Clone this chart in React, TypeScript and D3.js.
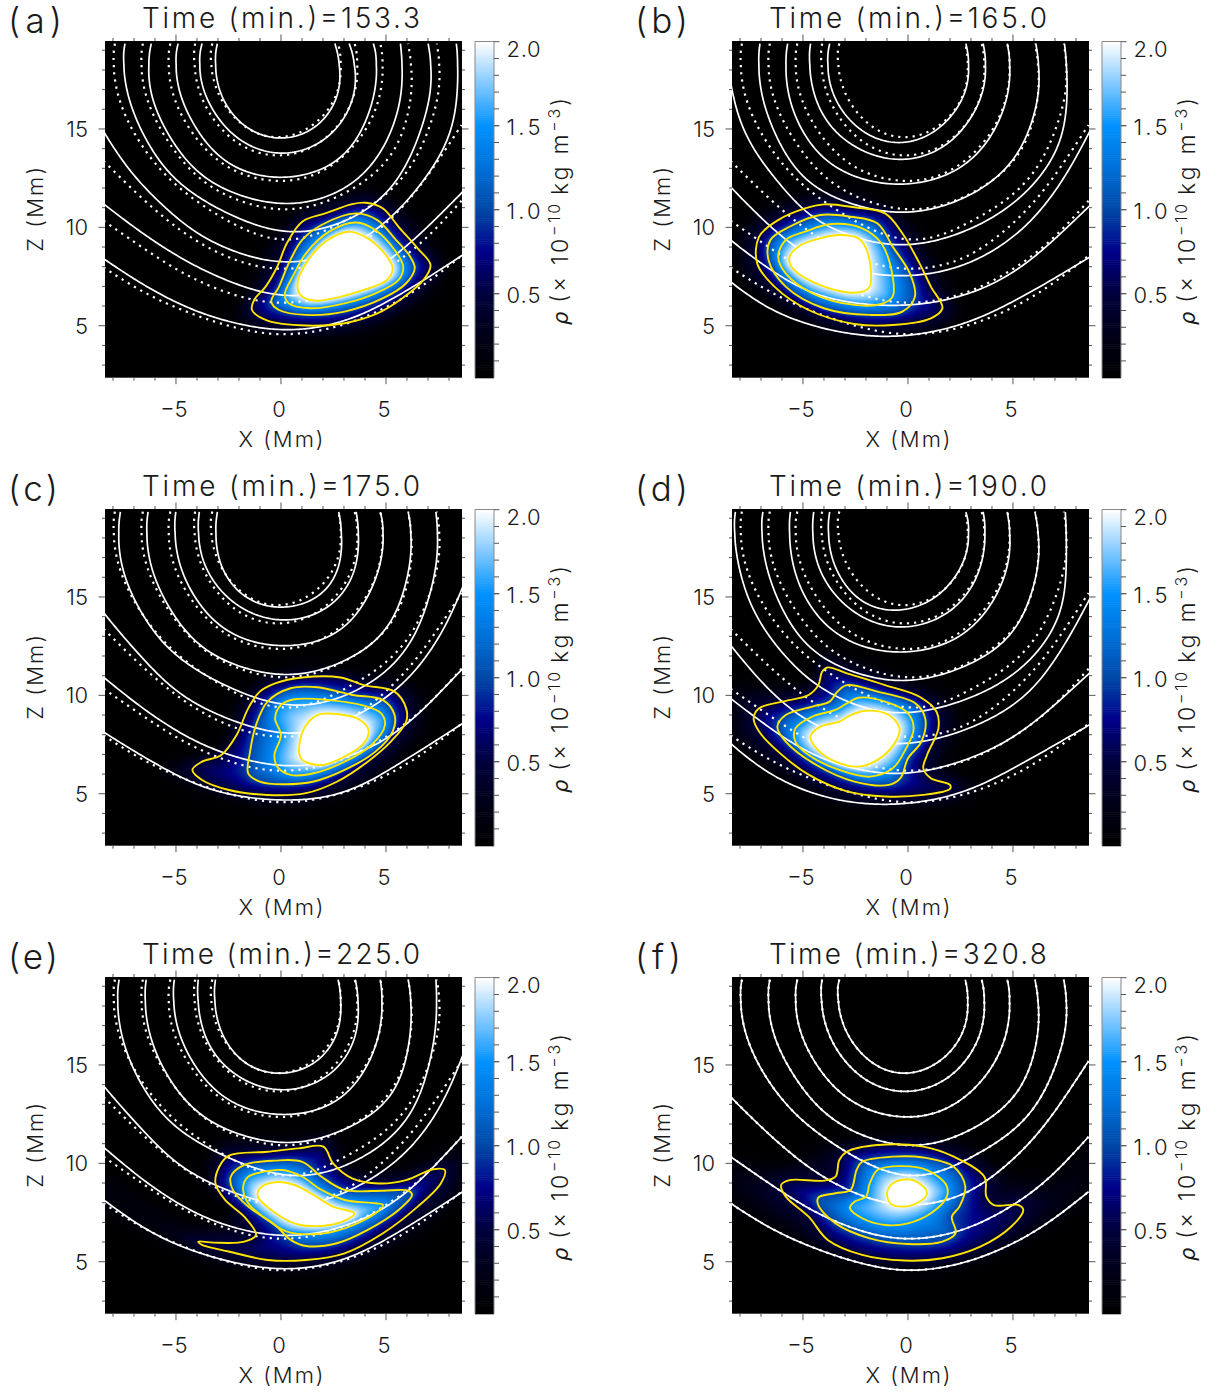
import { useMemo } from "react";
import * as d3 from "d3";

type Pt = [number, number];

const panelLabels = ["(a)", "(b)", "(c)", "(d)", "(e)", "(f)"];
const panelLabelWidths = [54, 53, 50, 53, 50, 46];
const panelTimes = ["153.3", "165.0", "175.0", "190.0", "225.0", "320.8"];
const xMajor = [-5, 0, 5];
const xMinor = d3.range(-8, 9);
const zMajor = [5, 10, 15];
const zMinor = d3.range(3, 20);
const barMajor = [2.0, 1.5, 1.0, 0.5];
const barMinor = d3.range(1, 20).map((d) => d / 10);
const contourLevels = [0.08, 0.5, 1.0, 1.5, 2.0];
const colorStops = [0, 0.25, 0.5, 0.75, 1.0, 1.25, 1.5, 1.75, 2.0];
const colorValues = ["#000000", "#000018", "#00003c", "#00008a", "#0048a8", "#0070d8", "#0092ff", "#80c8ff", "#ffffff"];

// dotted field lines, they stay the same in every panel
const referenceLines: Pt[][] = [
  [[-3.27, 19.34], [-3.42, 18.12], [-2.91, 16.43], [-1.64, 14.9], [-0.18, 14.4], [1.45, 14.99], [2.64, 16.43], [2.95, 17.79], [2.73, 19.34]],
  [[-4.09, 19.34], [-4.18, 17.95], [-3.64, 16.09], [-2.18, 14.23], [-0.22, 13.52], [1.82, 14.15], [3.27, 15.92], [3.73, 17.79], [3.51, 19.34]],
  [[-5.27, 19.34], [-5.42, 17.78], [-4.73, 15.58], [-2.91, 13.21], [-0.27, 12.27], [2.18, 12.87], [4.18, 15.08], [4.91, 17.61], [4.73, 19.34]],
  [[-6.58, 19.34], [-6.69, 17.61], [-5.82, 15.08], [-3.64, 12.2], [-0.27, 10.85], [2.55, 11.44], [5.27, 13.55], [6.27, 16.94], [6.05, 19.34]],
  [[-7.91, 19.34], [-8, 17.61], [-7.09, 14.9], [-4.73, 11.86], [-0.27, 9.29], [3.09, 10.34], [6, 12.7], [7.55, 16.77], [7.42, 19.34]],
  [[-8.45, 13.38], [-6.55, 11.4], [-4.5, 9.6], [-2.4, 8.4], [-0.27, 7.83], [2.4, 8.25], [4.6, 9.8], [6.5, 11.9], [8.6, 15.2]],
  [[-8.45, 10.34], [-6.5, 8.9], [-4.5, 7.55], [-2.4, 6.6], [-0.2, 6.1], [2.4, 6.5], [4.6, 7.6], [6.6, 9.1], [8.6, 11.35]],
  [[-8.45, 7.97], [-6.5, 6.65], [-4.5, 5.7], [-2.4, 4.95], [-0.1, 4.5], [2.4, 4.85], [4.6, 5.7], [6.6, 6.9], [8.6, 8.56]],
];

const linesA: Pt[][] = [
  [[-3.03, 19.34], [-3.21, 17.82], [-2.66, 16.13], [-1.56, 14.86], [0, 14.38], [1.56, 14.86], [2.57, 16.13], [2.94, 17.56], [2.57, 19.34]],
  [[-3.76, 19.34], [-3.98, 17.82], [-3.39, 16.13], [-2.11, 14.43], [0, 13.62], [2.11, 14.35], [3.3, 15.96], [3.67, 17.65], [3.25, 19.34]],
  [[-4.9, 19.34], [-5.08, 17.82], [-4.4, 15.62], [-2.66, 13.25], [0, 12.45], [2.66, 13.25], [4.04, 15.28], [4.64, 17.82], [4.4, 19.34]],
  [[-6.18, 19.34], [-6.37, 17.48], [-5.6, 15.11], [-3.58, 12.4], [0, 11.13], [3.03, 11.9], [4.86, 13.93], [5.78, 16.8], [5.69, 19.34]],
  [[-7.43, 19.34], [-7.52, 17.65], [-6.61, 14.77], [-4.5, 11.9], [0, 9.73], [3.58, 10.54], [5.78, 12.74], [7.16, 16.8], [7.01, 19.34]],
  [[-8.48, 14.94], [-7.25, 12.91], [-5.23, 10.71], [-3.21, 9.19], [0, 8.17], [3.03, 8.85], [5.78, 11.05], [7.98, 14.43], [8.44, 17.48], [8.35, 19.34]],
  [[-8.48, 11.22], [-6.15, 9.36], [-3.39, 7.66], [0, 6.48], [3.03, 6.99], [5.78, 8.85], [8.66, 11.81]],
  [[-8.48, 8.43], [-6.15, 6.82], [-3.39, 5.47], [0, 4.75], [3.03, 5.21], [5.78, 6.65], [8.66, 8.6]],
];
const linesB: Pt[][] = [
  [[-3.73, 19.34], [-3.91, 17.82], [-3.36, 16.13], [-2.18, 14.77], [-0.64, 14.15], [1.09, 14.6], [2.36, 15.96], [3, 17.48], [2.76, 19.34]],
  [[-4.64, 19.34], [-4.73, 17.82], [-4.18, 15.79], [-2.91, 14.26], [-0.64, 13.33], [1.64, 13.93], [3.09, 15.62], [3.78, 17.48], [3.58, 19.34]],
  [[-5.73, 19.34], [-5.87, 17.65], [-5.27, 15.28], [-3.64, 13.08], [-0.73, 12.12], [2.18, 12.74], [4, 14.6], [4.91, 17.31], [4.73, 19.34]],
  [[-7.05, 19.34], [-7.13, 17.48], [-6.36, 14.77], [-4.55, 12.06], [-0.73, 10.71], [2.55, 11.39], [5.09, 13.42], [6.27, 16.8], [6.09, 19.34]],
  [[-8.45, 17.65], [-8.35, 16.63], [-7.64, 14.43], [-6, 12.06], [-4.18, 10.2], [-0.73, 9.05], [2.55, 9.7], [5.45, 11.56], [7.27, 14.26], [7.6, 17.31], [7.45, 19.34]],
  [[-8.45, 12.06], [-6.55, 10.03], [-4.36, 8.34], [-0.73, 7.5], [2.55, 8], [5.27, 9.7], [7.2, 12.1], [8.69, 14.94]],
  [[-8.45, 9.36], [-6.55, 7.83], [-4.18, 6.48], [-0.73, 6.0], [2.55, 6.48], [5.45, 8], [8.69, 11.13]],
  [[-8.45, 7.24], [-6.55, 5.8], [-3.82, 4.79], [-0.73, 4.42], [2.55, 5.04], [5.45, 6.48], [8.69, 8.51]],
];
const linesC: Pt[][] = [
  [[-3.03, 19.32], [-3.17, 17.63], [-2.66, 15.94], [-1.56, 14.75], [0, 14.35], [1.74, 14.83], [2.66, 15.94], [2.97, 17.63], [2.75, 19.32]],
  [[-3.89, 19.32], [-3.98, 17.63], [-3.39, 15.94], [-2.02, 14.42], [0, 13.71], [2.11, 14.25], [3.39, 15.77], [3.76, 17.63], [3.58, 19.32]],
  [[-5.01, 19.32], [-5.08, 17.63], [-4.4, 15.43], [-2.66, 13.23], [0, 12.45], [2.66, 13.06], [4.22, 15.09], [4.95, 17.63], [4.73, 19.32]],
  [[-6.33, 19.32], [-6.42, 17.46], [-5.6, 14.92], [-3.58, 12.22], [0, 10.98], [3.03, 11.71], [5.23, 13.57], [6.24, 17.12], [6.06, 19.32]],
  [[-7.65, 19.32], [-7.76, 17.29], [-6.88, 14.59], [-4.68, 11.71], [0, 9.48], [3.58, 10.19], [6.15, 12.55], [7.43, 16.62], [7.38, 19.32]],
  [[-8.48, 14.25], [-6.88, 12.22], [-4.31, 9.68], [0, 8.02], [3.03, 8.66], [5.78, 10.52], [7.61, 13.06], [8.66, 15.52]],
  [[-8.48, 10.95], [-6.15, 9], [-3.39, 7.31], [0, 6.38], [3.03, 6.8], [5.78, 8.32], [8.66, 11.37]],
  [[-8.48, 8.16], [-6.15, 6.63], [-3.39, 5.19], [0, 4.65], [3.03, 5.03], [5.78, 6.63], [8.66, 8.58]],
];
const linesD: Pt[][] = [
  [[-3.73, 19.32], [-3.85, 17.63], [-3.27, 15.94], [-2.18, 14.58], [-0.64, 14.2], [0.91, 14.59], [2.18, 15.77], [3, 17.63], [2.76, 19.32]],
  [[-4.49, 19.32], [-4.58, 17.63], [-4.09, 15.94], [-2.73, 14.25], [-0.64, 13.35], [1.64, 13.91], [3.09, 15.43], [3.73, 17.63], [3.58, 19.32]],
  [[-5.6, 19.32], [-5.67, 17.63], [-5.09, 15.26], [-3.45, 13.06], [-0.73, 12.13], [2.18, 12.72], [4, 14.59], [4.91, 17.12], [4.73, 19.32]],
  [[-6.91, 19.32], [-6.98, 17.63], [-6.18, 14.75], [-4.36, 12.05], [-0.73, 10.69], [2.55, 11.37], [5.09, 13.23], [6.27, 16.79], [6.05, 19.32]],
  [[-8.22, 19.32], [-8.27, 17.63], [-7.45, 14.42], [-5.64, 11.71], [-3.64, 10.02], [-0.73, 9.04], [2.55, 9.68], [5.45, 11.37], [7.27, 14.08], [7.55, 17.29], [7.49, 19.32]],
  [[-8.45, 12.55], [-6.55, 10.19], [-4.18, 8.32], [-0.73, 7.48], [2.55, 8.15], [5.45, 9.8], [7.25, 12.2], [8.69, 14.97]],
  [[-8.45, 9.85], [-6.55, 8.32], [-4.18, 6.8], [-0.73, 5.96], [2.55, 6.63], [5.45, 8.16], [8.69, 11.17]],
  [[-8.45, 7.56], [-6.55, 5.96], [-3.82, 4.77], [-0.73, 4.43], [2.55, 5.03], [5.45, 6.55], [8.69, 8.53]],
];
const linesE: Pt[][] = [
  [[-3.12, 19.34], [-3.21, 17.78], [-2.66, 16.09], [-1.56, 14.82], [0, 14.45], [1.56, 14.9], [2.66, 16.26], [2.94, 17.78], [2.72, 19.34]],
  [[-3.94, 19.34], [-3.98, 17.78], [-3.39, 15.75], [-2.02, 14.31], [0, 13.6], [2.11, 14.23], [3.39, 15.75], [3.76, 17.61], [3.54, 19.34]],
  [[-5.08, 19.34], [-5.14, 17.61], [-4.4, 15.41], [-2.66, 13.21], [0, 12.4], [2.66, 13.05], [4.22, 15.08], [4.86, 17.44], [4.73, 19.34]],
  [[-6.42, 19.34], [-6.48, 17.44], [-5.6, 14.74], [-3.58, 12.2], [0, 10.98], [3.03, 11.69], [5.41, 13.55], [6.24, 17.11], [6.06, 19.34]],
  [[-7.71, 19.34], [-7.8, 17.44], [-6.88, 14.4], [-4.68, 11.52], [0, 9.36], [3.39, 10], [6.15, 12.37], [7.34, 16.43], [7.38, 19.34]],
  [[-8.48, 13.98], [-6.88, 12.03], [-4.31, 9.49], [0, 7.83], [3.03, 8.48], [5.78, 10.34], [7.61, 12.88], [8.66, 15.5]],
  [[-8.48, 10.85], [-6.15, 8.82], [-3.39, 7.12], [0, 6.28], [3.03, 6.79], [5.78, 8.31], [8.66, 11.4]],
  [[-8.48, 8.17], [-6.15, 6.45], [-3.39, 5.26], [0, 4.59], [3.03, 5.09], [5.78, 6.62], [8.66, 8.56]],
];
const panelLines = [linesA, linesB, linesC, linesD, linesE, referenceLines];

// yellow density contours, outermost first. The first ring of each panel is the
// faint halo around the blob and is not stroked.
const contoursA: Pt[][] = [
  [[4.2, 12], [6, 11], [7.5, 9], [8, 8], [7, 6.3], [5, 4.9], [3, 4.3], [1, 4.3], [-1.5, 4.7], [-2.3, 5.6], [-1.5, 7.2], [-0.5, 9.5], [0.8, 11], [2.5, 11.6]],
  [[4.04, 11.25], [4.86, 10.96], [5.6, 10.03], [6.51, 8.93], [7.12, 8.09], [6.79, 7.33], [5.78, 6.4], [4.59, 5.63], [3.03, 5.13], [1.19, 5.01], [-0.64, 5.26], [-1.38, 5.8], [-1.28, 6.31], [-0.73, 6.99], [-0.18, 8], [0.28, 9.19], [1.01, 10.29], [2.11, 10.71], [3.39, 11.18]],
  [[3.58, 10.71], [4.59, 10.37], [5.41, 9.44], [6.15, 8.51], [6.37, 7.92], [5.96, 7.16], [4.86, 6.4], [3.03, 5.72], [1.19, 5.55], [-0.09, 5.8], [-0.46, 6.23], [-0.09, 6.99], [0.37, 8.17], [1.01, 9.36], [1.93, 10.12]],
  [[3.58, 10.25], [4.5, 9.86], [5.41, 8.85], [5.82, 8], [5.6, 7.33], [4.5, 6.65], [3.03, 6.14], [1.38, 5.89], [0.37, 6.14], [0.18, 6.57], [0.64, 7.66], [1.19, 8.68], [2.29, 9.78]],
  [[3.21, 9.78], [4.13, 9.44], [5.05, 8.51], [5.32, 7.92], [5.05, 7.33], [3.94, 6.82], [2.66, 6.43], [1.56, 6.28], [0.92, 6.57], [0.79, 7.16], [1.19, 8.17], [2.11, 9.27]],
];
const contoursB: Pt[][] = [
  [[-4, 12], [-1, 11.3], [0.5, 10], [1.6, 8], [2.6, 5.8], [1.5, 4.7], [-1, 4.2], [-3.5, 4.4], [-6, 5.7], [-8, 7.5], [-8.2, 9.5], [-7, 11]],
  [[-4, 11.17], [-2.55, 11.02], [-1.09, 10.71], [-0.27, 9.7], [0.55, 8.17], [1.09, 6.99], [1.64, 5.89], [1.09, 5.38], [-0.73, 5.04], [-2.55, 5.09], [-4.73, 5.8], [-6.36, 6.99], [-7.18, 8.17], [-7.09, 9.53], [-6.18, 10.37], [-4.91, 10.96]],
  [[-4.18, 10.63], [-2.73, 10.54], [-1.45, 10.2], [-0.73, 9.02], [0.09, 7.66], [0.33, 6.48], [-0.27, 5.72], [-1.82, 5.55], [-4, 5.89], [-5.82, 6.99], [-6.64, 8.34], [-6.55, 9.36], [-5.64, 10.03]],
  [[-3.64, 10.17], [-2.18, 9.95], [-1.27, 9.19], [-0.73, 7.5], [-0.73, 6.48], [-1.27, 6.11], [-2.55, 6.06], [-4.55, 6.65], [-5.82, 7.66], [-6.18, 8.51], [-5.82, 9.36], [-4.91, 9.78]],
  [[-3.27, 9.61], [-2.36, 9.44], [-1.91, 8.68], [-1.82, 6.99], [-2.18, 6.73], [-3.09, 6.73], [-4.73, 7.33], [-5.55, 8], [-5.64, 8.51], [-5.09, 9.1], [-4.18, 9.44]],
];
const contoursC: Pt[][] = [
  [[1, 11.6], [4, 11.2], [6.5, 10.5], [7, 8.5], [6, 7], [4, 5.2], [1, 4.3], [-2, 4.5], [-5.5, 5.8], [-5, 6.8], [-3, 7.5], [-2.3, 9.5], [-1, 11]],
  [[-0.28, 10.61], [1.01, 10.91], [2.84, 10.91], [3.94, 10.52], [5.41, 10.19], [5.96, 9.34], [5.96, 8.66], [5.23, 7.65], [4.13, 6.63], [2.66, 5.61], [1.19, 5.03], [-0.64, 4.94], [-2.48, 5.19], [-3.76, 5.7], [-4.22, 6.21], [-3.76, 6.63], [-2.84, 6.97], [-2.11, 7.99], [-1.56, 9.34], [-1.01, 10.19]],
  [[0.46, 10.36], [1.74, 10.41], [3.39, 10.02], [4.86, 9.76], [5.41, 9], [5.32, 8.16], [4.5, 7.14], [3.03, 6.21], [1.56, 5.62], [0.09, 5.48], [-1.01, 5.62], [-1.56, 6.04], [-1.47, 7.14], [-1.19, 8.49], [-0.64, 9.68]],
  [[0.64, 9.8], [2.29, 9.76], [3.94, 9.48], [4.77, 9.09], [4.95, 8.49], [4.31, 7.48], [3.03, 6.63], [1.56, 6.04], [0.46, 5.96], [-0.18, 6.38], [-0.31, 6.97], [0, 7.99], [-0.28, 8.83], [0, 9.51]],
  [[1.74, 9], [2.66, 9.05], [3.76, 8.75], [4.17, 8.24], [3.94, 7.56], [3.03, 6.89], [1.93, 6.46], [1.01, 6.72], [0.86, 7.14], [1.1, 8.32]],
];
const contoursD: Pt[][] = [
  [[-4, 12.3], [-1, 11.3], [2, 10], [2.5, 8], [2, 6.5], [3.5, 5.3], [2, 4.3], [-1, 4.2], [-4, 4.6], [-8, 7.2], [-8.6, 8.5], [-8.6, 10.5], [-5, 10.7]],
  [[-3.82, 11.42], [-2.91, 11.12], [-1.09, 10.52], [0.55, 9.93], [1.36, 9.17], [1.45, 8.32], [0.91, 6.97], [0.73, 6.29], [1.09, 5.79], [2, 5.45], [2, 5.25], [0.73, 4.94], [-1.09, 4.86], [-2.91, 5.12], [-4.73, 5.97], [-6.18, 7.14], [-7.09, 8.16], [-7.35, 8.83], [-7.09, 9.34], [-6, 9.68], [-4.73, 10.02], [-4.27, 10.52], [-4.09, 11.2]],
  [[-2.91, 10.52], [-1.45, 10.19], [0.36, 9.59], [0.82, 8.83], [0.64, 7.65], [0, 6.8], [-0.36, 5.79], [-0.91, 5.45], [-2.55, 5.62], [-4.36, 6.46], [-5.82, 7.65], [-6.22, 8.41], [-5.82, 9], [-4.55, 9.43], [-3.73, 9.68], [-3.36, 10.19]],
  [[-2.36, 9.88], [-1.09, 9.68], [0, 9.09], [0.27, 8.32], [-0.09, 7.31], [-0.73, 6.29], [-1.82, 5.87], [-3.27, 6.21], [-4.73, 6.97], [-5.36, 7.65], [-5.36, 8.32], [-4.55, 8.92], [-3.45, 9.26], [-2.91, 9.59]],
  [[-2, 9.22], [-0.91, 9], [-0.4, 8.32], [-0.64, 7.56], [-1.45, 6.72], [-2.36, 6.38], [-3.45, 6.63], [-4.36, 7.31], [-4.64, 7.9], [-4.18, 8.41], [-3.27, 8.66], [-2.73, 9]],
];
const contoursE: Pt[][] = [
  [[-3, 11.2], [0, 11.4], [2.5, 11.6], [3.5, 9.9], [6, 9.9], [8.8, 11], [8.8, 8.6], [6.5, 6.3], [3, 4.6], [0, 4.4], [-4, 5.1], [-8.7, 8], [-8.7, 9.5], [-4.5, 7], [-2.5, 7.5], [-3.7, 9]],
  [[-2.48, 10.39], [-0.64, 10.59], [0.83, 10.76], [2.02, 10.85], [2.48, 10], [3.39, 9.24], [4.68, 8.98], [5.96, 9.15], [7.25, 9.7], [7.8, 9.66], [7.61, 8.98], [6.51, 7.8], [4.86, 6.45], [3.03, 5.43], [1.19, 5.09], [-0.64, 5.09], [-2.48, 5.52], [-3.76, 5.86], [-3.94, 6.02], [-3.21, 5.97], [-1.75, 6.02], [-1.19, 6.36], [-1.75, 7.29], [-2.66, 8.14], [-3.12, 8.98], [-2.94, 9.83]],
  [[-1.74, 9.92], [-0.28, 10.14], [1.01, 10.08], [1.93, 9.32], [3.03, 8.65], [4.86, 8.61], [6.06, 8.61], [6.24, 8.39], [5.6, 7.63], [4.13, 6.62], [2.66, 5.94], [1.19, 5.8], [0.46, 6.11], [-0.28, 6.87], [-1.56, 7.8], [-2.29, 8.65], [-2.39, 9.32]],
  [[-1.01, 9.53], [0.09, 9.66], [1.01, 9.32], [1.93, 8.65], [3.03, 8.14], [4.5, 7.97], [4.86, 7.88], [4.5, 7.46], [3.03, 6.7], [1.74, 6.41], [0.28, 6.53], [-0.64, 7.12], [-1.56, 7.97], [-1.8, 8.82], [-1.56, 9.32]],
  [[-0.28, 9.04], [0.64, 8.9], [1.56, 8.39], [2.48, 7.8], [3.49, 7.46], [3.03, 7.09], [1.93, 6.82], [0.64, 6.95], [-0.46, 7.63], [-1.1, 8.31], [-1.01, 8.73]],
];
const contoursF: Pt[][] = [
  [[-4, 11], [0, 11.6], [3, 11], [5, 9.5], [7, 9.5], [8.8, 11], [8.8, 8.5], [6, 6.2], [3, 4.8], [0, 4.5], [-3, 4.9], [-6, 6.5], [-8.7, 8.3], [-8.7, 10.2], [-6, 10]],
  [[-2.91, 10.59], [-1.45, 10.93], [0.73, 10.85], [2.18, 10.34], [3.64, 9.32], [3.73, 8.31], [4.09, 7.88], [5.27, 7.88], [5.49, 7.63], [4.91, 6.78], [3.45, 5.77], [1.64, 5.18], [-0.18, 5.06], [-2.18, 5.35], [-3.82, 6.11], [-4.73, 7.29], [-5.82, 8.31], [-6.04, 8.9], [-5.64, 9.15], [-4, 9.12], [-3.45, 9.32], [-3.27, 10.17]],
  [[-2.18, 10.08], [-0.73, 10.34], [0.73, 10.3], [2.18, 9.83], [2.73, 8.82], [2.45, 7.8], [2.09, 7.29], [2.27, 6.45], [1.64, 6.02], [0, 5.9], [-1.82, 6.19], [-3.45, 6.95], [-4.27, 7.88], [-4.27, 8.26], [-3.45, 8.48], [-2.73, 8.65], [-2.45, 9.66]],
  [[-1.45, 9.66], [-0.36, 9.86], [0.91, 9.66], [1.82, 8.9], [1.85, 8.31], [1.09, 7.46], [0, 6.95], [-1.09, 6.87], [-2.18, 7.21], [-2.76, 7.72], [-2.55, 8.05], [-2, 8.31], [-1.82, 8.98]],
  [[-0.73, 8.98], [0, 9.19], [0.64, 8.9], [0.91, 8.48], [0.55, 8.05], [-0.27, 7.8], [-0.82, 7.94], [-1, 8.48]],
];
const panelContours = [contoursA, contoursB, contoursC, contoursD, contoursE, contoursF];

const FONT = "Inter, 'Open Sans', sans-serif";
const PLOT_W = 357;
const PLOT_H = 336.7;
const COL_OFFSET = 627;
const ROW_OFFSET = 468;
const STEP = 2;

const x = d3.scaleLinear().domain([-8.38, 8.62]).range([0, PLOT_W]);
const z = d3.scaleLinear().domain([2.36, 19.47]).range([PLOT_H, 0]);
const barY = d3.scaleLinear().domain([0, 2]).range([PLOT_H, 0.7]);
const color = d3.scaleLinear<string>().domain(colorStops).range(colorValues).clamp(true);

const polyLine = d3.line<Pt>().x((d) => x(d[0])).y((d) => z(d[1]));
const closedLine = d3.line<Pt>().x((d) => x(d[0])).y((d) => z(d[1])).curve(d3.curveCatmullRomClosed.alpha(0.5));

function catmull(p0: Pt, p1: Pt, p2: Pt, p3: Pt, t: number): Pt {
  const f = (a: number, b: number, c: number, d: number) =>
    0.5 * (2 * b + (c - a) * t + (2 * a - 5 * b + 4 * c - d) * t * t + (3 * b - a - 3 * c + d) * t * t * t);
  return [f(p0[0], p1[0], p2[0], p3[0]), f(p0[1], p1[1], p2[1], p3[1])];
}

function sampleRing(ring: Pt[]): Pt[] {
  const n = ring.length;
  const out: Pt[] = [];
  for (let i = 0; i < n; i++) {
    for (let s = 0; s < 4; s++) {
      out.push(catmull(ring[(i + n - 1) % n], ring[i], ring[(i + 1) % n], ring[(i + 2) % n], s / 4));
    }
  }
  return out;
}

// the read points carry some error, so the field lines get resampled along
// their length and averaged to take out the kinks
function smoothLine(points: Pt[], radius = 1.1): Pt[] {
  const n = points.length;
  const dense: Pt[] = [];
  for (let i = 0; i < n - 1; i++) {
    for (let s = 0; s < 12; s++) {
      dense.push(catmull(points[Math.max(i - 1, 0)], points[i], points[i + 1], points[Math.min(i + 2, n - 1)], s / 12));
    }
  }
  dense.push(points[n - 1]);
  const lengths = [0];
  for (let i = 1; i < dense.length; i++) {
    lengths.push(lengths[i - 1] + Math.hypot(dense[i][0] - dense[i - 1][0], dense[i][1] - dense[i - 1][1]));
  }
  const total = lengths[lengths.length - 1];
  const bisect = d3.bisector((d: number) => d).left;
  const spacing = 0.1;
  const count = Math.floor(total / spacing);
  let even: Pt[] = d3.range(count + 1).map((k) => {
    const s = (k / count) * total;
    const j = Math.min(Math.max(bisect(lengths, s), 1), dense.length - 1);
    const t = (s - lengths[j - 1]) / (lengths[j] - lengths[j - 1] || 1);
    return [dense[j - 1][0] + (dense[j][0] - dense[j - 1][0]) * t, dense[j - 1][1] + (dense[j][1] - dense[j - 1][1]) * t] as Pt;
  });
  const win = Math.round(radius / (total / count));
  for (let pass = 0; pass < 2; pass++) {
    even = even.map((_, k) => {
      const w = Math.min(win, k, even.length - 1 - k);
      const part = even.slice(k - w, k + w + 1);
      return [d3.mean(part, (d) => d[0]) as number, d3.mean(part, (d) => d[1]) as number] as Pt;
    });
  }
  return even;
}

function ringDistance(ring: Pt[], px: number, py: number) {
  let best = Infinity;
  for (let i = 0, n = ring.length; i < n; i++) {
    const a = ring[i];
    const b = ring[(i + 1) % n];
    const dx = b[0] - a[0];
    const dy = b[1] - a[1];
    const t = Math.max(0, Math.min(1, ((px - a[0]) * dx + (py - a[1]) * dy) / (dx * dx + dy * dy || 1)));
    const ex = a[0] + t * dx - px;
    const ey = a[1] + t * dy - py;
    const d = ex * ex + ey * ey;
    if (d < best) best = d;
  }
  return Math.sqrt(best);
}

// density on a grid, interpolated between the contours
function densityField(contours: Pt[][], nx: number, ny: number) {
  const rings = contours.map(sampleRing);
  const values = new Float64Array(nx * ny);
  for (let j = 0; j < ny; j++) {
    const zv = z.invert((j + 0.5) * STEP);
    for (let i = 0; i < nx; i++) {
      const xv = x.invert((i + 0.5) * STEP);
      let k = rings.length - 1;
      while (k >= 0 && !d3.polygonContains(rings[k], [xv, zv])) k--;
      let v: number;
      if (k < 0) {
        v = contourLevels[0] * Math.exp(-ringDistance(rings[0], xv, zv) / 0.45);
      } else if (k === rings.length - 1) {
        v = contourLevels[k] + ringDistance(rings[k], xv, zv);
      } else {
        const d0 = ringDistance(rings[k], xv, zv);
        const d1 = ringDistance(rings[k + 1], xv, zv);
        v = contourLevels[k] + ((contourLevels[k + 1] - contourLevels[k]) * d0) / (d0 + d1 || 1);
      }
      values[j * nx + i] = v;
    }
  }
  return values;
}

const densityThresholds = d3.range(0.02, 2.01, 0.03);
const axisColor = "#555";
const smoothReference = referenceLines.map((l) => polyLine(smoothLine(l)) || "");

function Panel({ index }: { index: number }) {
  const left = 105 + (index % 2) * COL_OFFSET;
  const top = 41 + Math.floor(index / 2) * ROW_OFFSET;
  const contours = panelContours[index];
  const clipId = `plot-clip-${index}`;

  const bands = useMemo(() => {
    const nx = Math.ceil(PLOT_W / STEP);
    const ny = Math.ceil(PLOT_H / STEP);
    const values = densityField(contours, nx, ny);
    const gen = d3.contours().size([nx, ny]).thresholds(densityThresholds);
    const path = d3.geoPath();
    return gen(Array.from(values)).map((c) => ({ value: c.value, d: path(c) || "" }));
  }, [contours]);

  const solid = useMemo(() => panelLines[index].map((l) => polyLine(smoothLine(l)) || ""), [index]);
  const barBlocks = d3.range(0, 2, 0.0125);

  return (
    <g transform={`translate(${left},${top})`} fontFamily={FONT} fontWeight={300} fill="#1a1a1a">
      <defs>
        <clipPath id={clipId}>
          <rect width={PLOT_W} height={PLOT_H} />
        </clipPath>
      </defs>
      <text x={-97} y={-8} fontSize={35} textLength={panelLabelWidths[index]} lengthAdjust="spacing">
        {panelLabels[index]}
      </text>
      <text x={x(0)} y={-13} fontSize={28} textAnchor="middle" textLength={278} lengthAdjust="spacing">
        Time (min.)={panelTimes[index]}
      </text>

      <rect width={PLOT_W} height={PLOT_H} fill="#000" />
      <g clipPath={`url(#${clipId})`}>
        <g transform={`scale(${STEP})`}>
          {bands.map((b) => (
            <path key={b.value} d={b.d} fill={color(b.value)} />
          ))}
        </g>
        {smoothReference.map((d, i) => (
          <path key={i} d={d} fill="none" stroke="#fff" strokeWidth={2.2} strokeDasharray="2.2 5" />
        ))}
        {solid.map((d, i) => (
          <path key={i} d={d} fill="none" stroke="#fff" strokeWidth={1.7} />
        ))}
        {contours.slice(1).map((c, i) => (
          <path key={i} d={closedLine(c) || ""} fill="none" stroke="#ffe400" strokeWidth={1.9} />
        ))}
      </g>

      <g stroke={axisColor} strokeWidth={1}>
        {xMinor.map((t) => {
          const len = xMajor.includes(t) ? 6.5 : 3;
          return (
            <g key={t}>
              <line x1={x(t)} x2={x(t)} y1={PLOT_H} y2={PLOT_H + len} />
              <line x1={x(t)} x2={x(t)} y1={0} y2={-len} />
            </g>
          );
        })}
        {zMinor.map((t) => {
          const len = zMajor.includes(t) ? 6.5 : 3;
          return (
            <g key={t}>
              <line y1={z(t)} y2={z(t)} x1={0} x2={-len} />
              <line y1={z(t)} y2={z(t)} x1={PLOT_W} x2={PLOT_W + len} />
            </g>
          );
        })}
      </g>
      {xMajor.map((t) => (
        <text key={t} x={x(t) - 2} y={PLOT_H + 39.5} fontSize={22} textAnchor="middle">
          {t < 0 ? `\u2212${-t}` : t}
        </text>
      ))}
      {zMajor.map((t) => (
        <text key={t} x={-17} y={z(t) + 8} fontSize={22} textAnchor="end">
          {t}
        </text>
      ))}
      <text x={x(0)} y={PLOT_H + 69} fontSize={22} textAnchor="middle" textLength={85} lengthAdjust="spacing">
        X (Mm)
      </text>
      <text transform={`translate(-62,${z(10) - 18}) rotate(-90)`} fontSize={22} textAnchor="middle" textLength={85} lengthAdjust="spacing">
        Z (Mm)
      </text>

      <g transform="translate(370,0)">
        {barBlocks.map((v) => (
          <rect key={v} x={0} width={19} y={barY(v + 0.0125)} height={barY(v) - barY(v + 0.0125) + 0.6} fill={color(v + 0.00625)} />
        ))}
        <path d={`M0,${PLOT_H}V0.5H19V${PLOT_H}`} fill="none" stroke="#888" strokeWidth={1} />
        {barMinor.map((v) => (
          <line key={v} x1={19} x2={24} y1={barY(v)} y2={barY(v)} stroke={axisColor} />
        ))}
        {barMajor.map((v) => (
          <g key={v}>
            <line x1={19} x2={24.5} y1={barY(v)} y2={barY(v)} stroke={axisColor} />
            <text x={31.5} y={barY(v) + (v === 2 ? 15.5 : 9)} fontSize={22} textLength={34} lengthAdjust="spacing">
              {v.toFixed(1)}
            </text>
          </g>
        ))}
        <text transform="translate(93,284) rotate(-90)" fontSize={23} textLength={227} lengthAdjust="spacing">
          <tspan fontFamily="'DejaVu Sans'" fontStyle="italic" fontSize={21}>ρ</tspan>
          <tspan dx={6}>(× 10</tspan>
          <tspan dy={-8} fontSize={16}>−10</tspan>
          <tspan dy={8} dx={6}>kg m</tspan>
          <tspan dy={-8} fontSize={16}>−3</tspan>
          <tspan dy={8}>)</tspan>
        </text>
      </g>
    </g>
  );
}

export default function App() {
  return (
    <svg width={1214} height={1393} style={{ position: "absolute", left: 0, top: 0, background: "#fff" }}>
      {panelLabels.map((_, i) => (
        <Panel key={i} index={i} />
      ))}
    </svg>
  );
}
